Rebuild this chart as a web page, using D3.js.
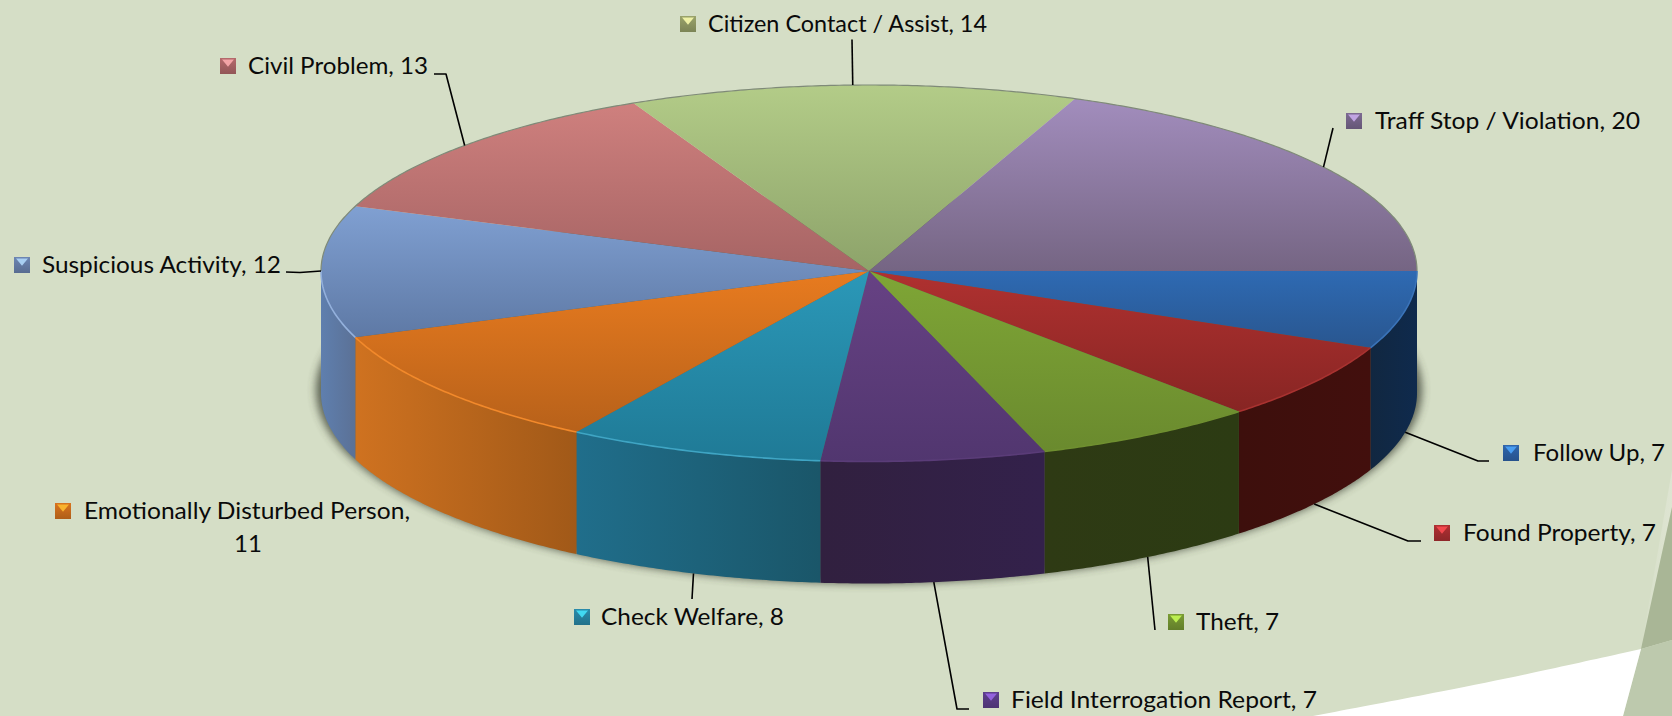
<!DOCTYPE html>
<html><head><meta charset="utf-8">
<style>html,body{margin:0;padding:0;background:#d5dec6;overflow:hidden}svg{display:block}text{font-family:Lato,"Open Sans",sans-serif;font-size:24px;fill:#0a0a0a}</style>
<script src="https://cdn.jsdelivr.net/npm/d3@7/dist/d3.min.js"></script>
</head><body><svg id="c" width="1672" height="716"></svg>
<script>
// Data, clockwise from 3 o'clock
const categories=["Follow Up","Found Property","Theft","Field Interrogation Report","Check Welfare","Emotionally Disturbed Person","Suspicious Activity","Civil Problem","Citizen Contact / Assist","Traff Stop / Violation"];
const values=[7,7,7,7,8,11,12,13,14,20];
// Styles
const faceLight=["#2e6ab3","#b03130","#7fa636","#674284","#2b98b8","#e87b1f","#80a0d2","#cf807e","#b3cc88","#a28dbd"];
const faceDark=["#29568f","#872523","#6a8a2e","#51366f","#1f7a96","#b7611a","#5e79a5","#a66464","#8da36a","#756583"];
const wallLeft=["#0f2a4d","#420f0d","#2c3b13","#33214b","#206e8b","#cf7220","#5f7fae","#888","#888","#888"];
const wallRight=["#112740","#3d0f0c","#2e3a14","#31203f","#1a5669","#a15918","#5b7196","#888","#888","#888"];
const rimColor=["#3a73b8","#a83230","#6f8f30","#5a3c78","#3fa5c4","#f2892b","#93b0dc","#888","#888","#888"];
const markerColor=["#2f66ad","#b03033","#7a9c34","#5f3f8f","#2a8cab","#d9741f","#6d86b3","#b56a6c","#9aa36b","#7d6a92"];
// Label placement: text left, baseline, text width, marker left, elbow and end of leader
const labelLayout=[
{tx:1533,by:461,tw:132,mx:1503,path:[[1478,461],[1489,461]]},
{tx:1463,by:541,tw:193,mx:1434,path:[[1408,541],[1421,541]]},
{tx:1196,by:630,tw:83,mx:1168,path:[[1155,630]]},
{tx:1011,by:708,tw:306,mx:983,path:[[957,709],[969,709]]},
{tx:601,by:625,tw:183,mx:574,path:[[692,599]]},
{tx:84,by:519,tw:326,mx:55,path:null,second:{x:248,y:552}},
{tx:42,by:273,tw:239,mx:14,path:[[300,272.5],[286,272]]},
{tx:248,by:74,tw:180,mx:220,path:[[446,74],[434,74]]},
{tx:708,by:32,tw:279,mx:680,path:[[852,39.5]]},
{tx:1375,by:129,tw:265,mx:1346,path:[[1333,128]]}
];
const W=1672,H=716,depth=122;
const svg=d3.select("#c"),defs=svg.append("defs");
const xS=d3.scaleLinear().domain([-1,1]).range([321,1417]);
const yS=d3.scaleLinear().domain([-1,0,1]).range([85,271,461.5]);
const pie=d3.pie().sort(null).startAngle(Math.PI/2).endAngle(Math.PI*2.5);
const arcs=pie(values);
const pt=(a,dz=0)=>{const t=a-Math.PI/2;return [xS(Math.cos(t)),yS(Math.sin(t))+dz];};
const samples=(a0,a1)=>{const n=Math.max(2,Math.ceil((a1-a0)*120));return d3.range(n+1).map(i=>a0+(a1-a0)*i/n);};
const line=d3.line();
const f=defs.append("filter").attr("id","sh").attr("x","-10%").attr("y","-30%").attr("width","120%").attr("height","160%");
f.append("feGaussianBlur").attr("stdDeviation",4.5);

// Background decoration
const deco=svg.append("g");
const band=defs.append("linearGradient").attr("id","band").attr("x1",0).attr("x2",1);
band.append("stop").attr("offset",0).attr("stop-color","#dfe5d3").attr("stop-opacity",.15);
band.append("stop").attr("offset",1).attr("stop-color","#dfe5d3").attr("stop-opacity",.9);
deco.append("path").attr("d",line([[1641,649],[1672,470],[1672,507]])+"Z").attr("fill","url(#band)");
deco.append("path").attr("d",line([[1641,649],[1672,507],[1672,640]])+"Z").attr("fill","#a9b696");
deco.append("path").attr("d",line([[1641,649],[1672,640],[1672,716],[1623,716]])+"Z").attr("fill","#bdc9ad");
deco.append("path").attr("d",d3.line().curve(d3.curveBasis)([[1313,716],[1450,690],[1533,673],[1641,649]])+"L1641,649L1623,716Z").attr("fill","#fff");

// Shadow under the disc
svg.append("ellipse").attr("cx",xS(0)).attr("cy",yS(0)+depth-3).attr("rx",(xS(1)-xS(-1))/2+5).attr("ry",yS(1)-yS(0)+3)
 .attr("fill","#3c4236").attr("opacity",.8).attr("filter","url(#sh)");

// Side walls of front half
arcs.forEach((d,i)=>{
  const a0=d.startAngle,a1=Math.min(d.endAngle,Math.PI*1.5);
  if(a0>=Math.PI*1.5)return;
  const g=defs.append("linearGradient").attr("id","w"+i).attr("x1",0).attr("x2",1);
  const rev=i<4;
  g.append("stop").attr("offset",0).attr("stop-color",rev?wallRight[i]:wallLeft[i]);
  g.append("stop").attr("offset",1).attr("stop-color",rev?wallLeft[i]:wallRight[i]);
  const s=samples(a0,a1);
  svg.append("path").attr("d",line(s.map(a=>pt(a)).concat(s.slice().reverse().map(a=>pt(a,depth))))+"Z")
    .attr("fill",`url(#w${i})`);
});
// Top faces
arcs.forEach((d,i)=>{
  const g=defs.append("linearGradient").attr("id","t"+i).attr("x1",0).attr("x2",0).attr("y1",0).attr("y2",1);
  g.append("stop").attr("offset",0).attr("stop-color",faceLight[i]);
  g.append("stop").attr("offset",1).attr("stop-color",faceDark[i]);
  const s=samples(d.startAngle,d.endAngle);
  svg.append("path").attr("d",line([[xS(0),yS(0)]].concat(s.map(a=>pt(a))))+"Z").attr("fill",`url(#t${i})`);
});
// Rim highlight on front edge
arcs.forEach((d,i)=>{
  const a1=Math.min(d.endAngle,Math.PI*1.5);
  if(d.startAngle>=Math.PI*1.5)return;
  svg.append("path").attr("d",line(samples(d.startAngle,a1).map(a=>pt(a)))).attr("fill","none")
    .attr("stroke",rimColor[i]).attr("stroke-width",1.6);
});
// Back edge outline
svg.append("path").attr("d",line(samples(Math.PI*1.5,Math.PI*2.5).map(a=>pt(a)))).attr("fill","none").attr("stroke","#7f8a78").attr("stroke-width",1.2);

// Leaders
arcs.forEach((d,i)=>{
  const L=labelLayout[i]; if(!L.path)return;
  const mid=(d.startAngle+d.endAngle)/2, front=mid<Math.PI*1.5;
  const anchor=pt(mid,front?depth:0);
  svg.append("path").attr("d",line([anchor].concat(L.path))).attr("fill","none").attr("stroke","#000").attr("stroke-width",1.6).attr("stroke-linejoin","round");
});
// Labels and markers
categories.forEach((c,i)=>{
  const L=labelLayout[i],m=16,y=L.by-m;
  const g=defs.append("linearGradient").attr("id","m"+i).attr("x1",0).attr("x2",0).attr("y1",0).attr("y2",1);
  const col=d3.color(markerColor[i]);
  g.append("stop").attr("offset",0).attr("stop-color",col);
  g.append("stop").attr("offset",1).attr("stop-color",col.darker(.6));
  svg.append("rect").attr("x",L.mx).attr("y",y).attr("width",m).attr("height",m).attr("fill",`url(#m${i})`);
  svg.append("path").attr("d",line([[L.mx+2,y+1.5],[L.mx+m-2,y+1.5],[L.mx+m/2,y+m*.55]])+"Z").attr("fill",col.brighter(1.4)).attr("opacity",.85);
  const txt=L.second?`${c},`:`${c}, ${values[i]}`;
  svg.append("text").attr("x",L.tx).attr("y",L.by).attr("textLength",L.tw).attr("lengthAdjust","spacingAndGlyphs").text(txt);
  if(L.second)svg.append("text").attr("x",L.second.x).attr("y",L.second.y).attr("text-anchor","middle").text(values[i]);
});
</script></body></html>
